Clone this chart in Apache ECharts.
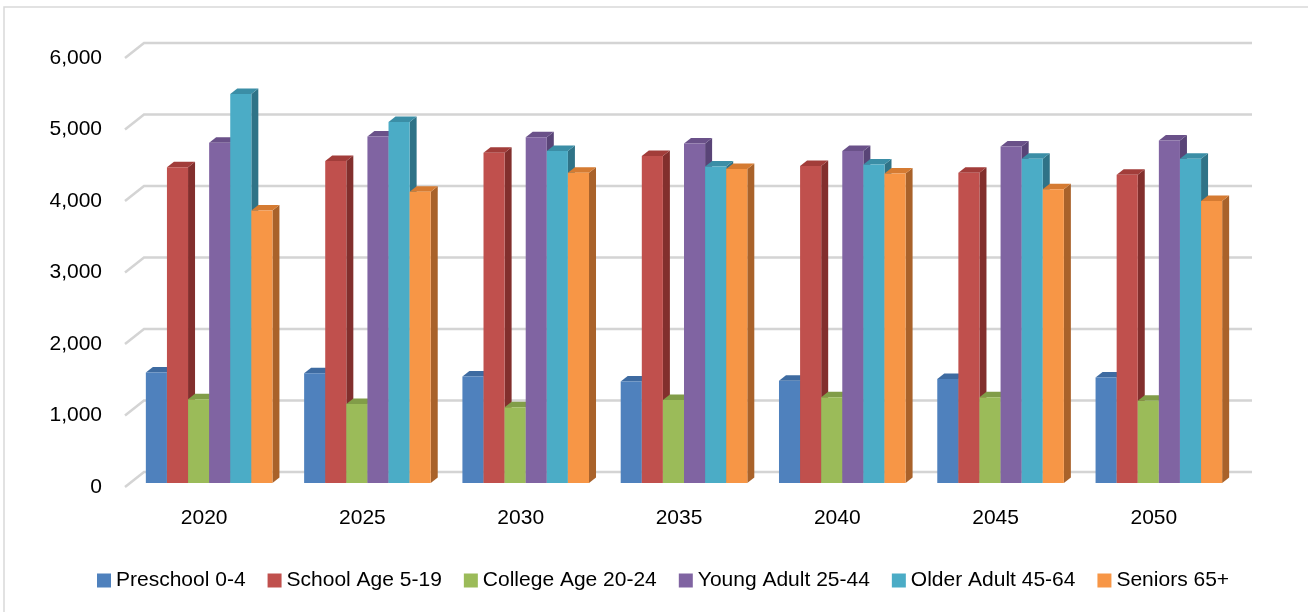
<!DOCTYPE html>
<html>
<head>
<meta charset="utf-8">
<script src="https://cdn.jsdelivr.net/npm/echarts@6/dist/echarts.min.js"></script>
<style>
  html, body { margin: 0; padding: 0; background: #fff; }
  #main { width: 1308px; height: 612px; }
</style>
</head>
<body>
<div id="main"></div>
<script>
// 数据
var years = ["2020", "2025", "2030", "2035", "2040", "2045", "2050"];
var yTicks = [0, 1000, 2000, 3000, 4000, 5000, 6000];

var preschool = [1545, 1535, 1490, 1420, 1430, 1455, 1475];
var schoolAge = [4415, 4505, 4620, 4575, 4435, 4340, 4310];
var collegeAge = [1170, 1105, 1060, 1160, 1200, 1200, 1150];
var youngAdult = [4760, 4845, 4835, 4750, 4645, 4705, 4790];
var olderAdult = [5440, 5050, 4645, 4425, 4455, 4535, 4535];
var seniors = [3810, 4075, 4340, 4390, 4330, 4110, 3945];

var seriesNames = ["Preschool 0-4", "School Age 5-19", "College Age 20-24",
    "Young Adult 25-44", "Older Adult 45-64", "Seniors 65+"];
var seriesData = [preschool, schoolAge, collegeAge, youngAdult, olderAdult, seniors];

// 颜色：正面 / 侧面 / 顶面
var frontColors = ["#4f81bd", "#c0504d", "#9bbb59", "#8064a2", "#4bacc6", "#f79646"];
var sideColors = ["#375d8c", "#822f2d", "#6f8a3c", "#594477", "#2f7387", "#a9622a"];
var topColors = ["#3e6ba1", "#a23d3a", "#819d48", "#6a5189", "#3b8ea6", "#d57b32"];

var fontFamily = "'Liberation Sans', Arial, sans-serif";

var chart = echarts.init(document.getElementById("main"));

// 3D 偏移量
var barDX = 7, barDY = 5.5;      // 柱子厚度
var planeDX = 5, planeDY = 4;    // 柱子正面相对前平面
var wallDX = 19, wallDY = 15;    // 背景墙相对前平面

function gridRender(params, api) {
    var v = api.value(0);
    var y = api.coord([0, v])[1];
    var cs = params.coordSys;
    var x0 = cs.x, x1 = cs.x + cs.width;
    return {
        type: "polyline",
        shape: { points: [[x0, y], [x0 + wallDX, y - wallDY], [x1 + wallDX, y - wallDY]] },
        style: { stroke: "#d4d4d4", lineWidth: 2.5, fill: null },
        z2: 0
    };
}

function makeBarRender(si) {
    return function (params, api) {
        var idx = api.value(0);
        var val = api.value(1);
        var base = api.coord([idx, 0]);
        var top = api.coord([idx, val]);
        var band = api.size([1, 0])[0];
        var w = band * 0.1333;
        var x0 = base[0] - 3 * w + si * w + planeDX;
        var x1 = x0 + w;
        var yb = base[1] - planeDY;
        var yt = top[1] - planeDY;
        return {
            type: "group",
            children: [
                {
                    type: "polygon",
                    shape: { points: [[x1, yb], [x1 + barDX, yb - barDY], [x1 + barDX, yt - barDY], [x1, yt]] },
                    style: { fill: sideColors[si] }
                },
                {
                    type: "polygon",
                    shape: { points: [[x0, yt], [x0 + barDX, yt - barDY], [x1 + barDX, yt - barDY], [x1, yt]] },
                    style: { fill: topColors[si] }
                },
                {
                    type: "rect",
                    shape: { x: x0, y: yt, width: w, height: yb - yt },
                    style: { fill: frontColors[si] }
                }
            ]
        };
    };
}

var series = [{
    name: "grid",
    type: "custom",
    renderItem: gridRender,
    data: yTicks.map(function (t) { return [t]; }),
    encode: { y: 0 },
    silent: true,
    z: 1
}];

seriesNames.forEach(function (name, si) {
    series.push({
        name: name,
        type: "custom",
        renderItem: makeBarRender(si),
        itemStyle: { color: frontColors[si] },
        data: seriesData[si].map(function (v, i) { return [i, v]; }),
        encode: { x: 0, y: 1 },
        z: 2 + si
    });
});

var option = {
    animation: false,
    backgroundColor: "#fff",
    graphic: [{
        type: "rect",
        shape: { x: 4, y: 7, width: 1320, height: 640 },
        style: { fill: null, stroke: "#d9d9d9", lineWidth: 1.5 },
        silent: true
    }],
    grid: { left: 125, right: 75, top: 58, bottom: 125 },
    xAxis: {
        type: "category",
        data: years,
        axisLine: { show: false },
        axisTick: { show: false },
        axisLabel: { color: "#000", fontSize: 21, fontFamily: fontFamily, margin: 21 }
    },
    yAxis: {
        type: "value",
        min: 0,
        max: 6000,
        interval: 1000,
        splitLine: { show: false },
        axisLine: { show: false },
        axisTick: { show: false },
        axisLabel: {
            color: "#000", fontSize: 21, fontFamily: fontFamily, margin: 23,
            formatter: function (v) { return v.toLocaleString("en-US"); }
        }
    },
    legend: {
        data: seriesNames,
        left: 92,
        top: 565,
        icon: "rect",
        itemWidth: 14,
        itemHeight: 14,
        itemGap: 22,
        textStyle: { color: "#000", fontSize: 21, fontFamily: fontFamily }
    },
    series: series
};

chart.setOption(option);
</script>
</body>
</html>
